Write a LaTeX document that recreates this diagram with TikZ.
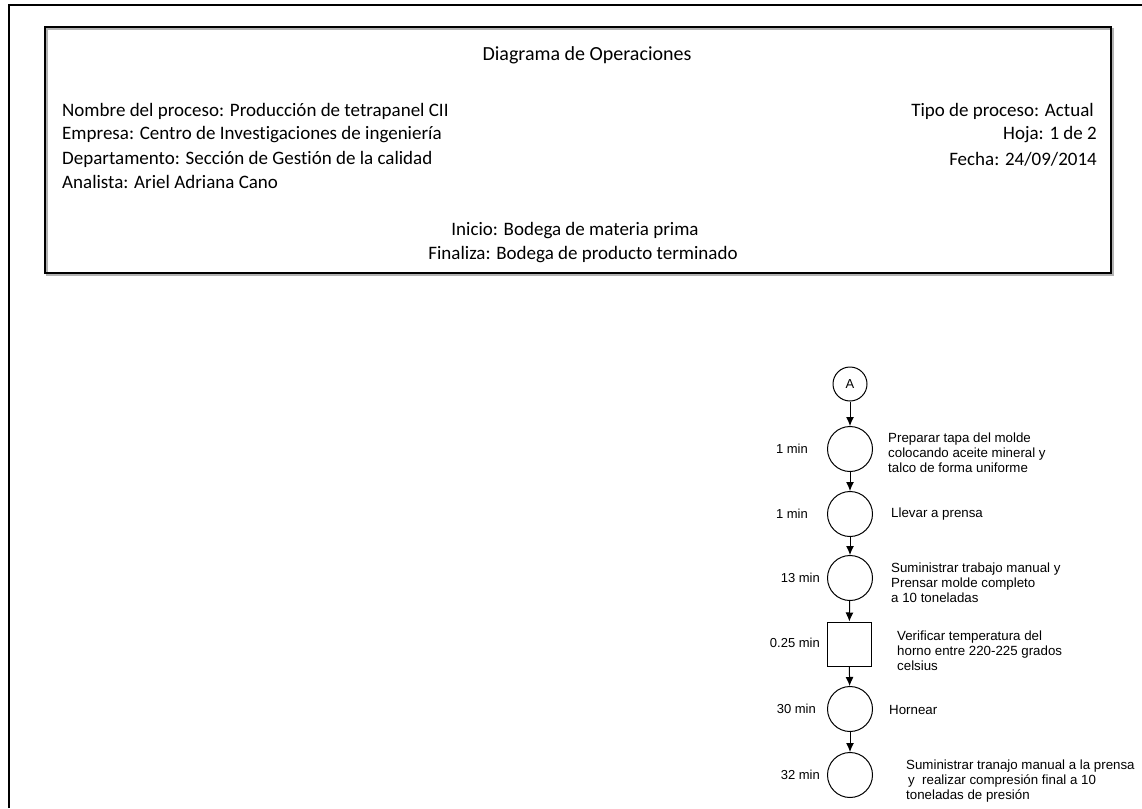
\documentclass[tikz,border=0pt]{standalone}
\usepackage{fontspec}
\setmainfont{Carlito}[Ligatures={NoCommon}]
\newfontfamily\arial{Liberation Sans}
\usepackage{tikz}
\usetikzlibrary{positioning,arrows.meta}

\begin{document}
\begin{tikzpicture}[x=1pt,y=-1pt,
	op/.style={draw,circle,line width=1pt,minimum size=45pt,inner sep=0pt},
	insp/.style={draw,rectangle,line width=1pt,minimum size=44pt,inner sep=0pt},
	conn/.style={-{Latex[length=9pt,width=8pt]},line width=1pt},
	tiempo/.style={anchor=east,font=\arial\fontsize{13}{15}\selectfont,inner sep=0pt},
	desc/.style={anchor=west,align=left,font=\arial\fontsize{13.3}{15}\selectfont,inner sep=0pt},
	hdr/.style={font=\fontsize{19}{22}\selectfont,inner sep=0pt}]
	\useasboundingbox (0,0) rectangle (1142,808);
	\fill[white] (0,0) rectangle (1142,808);
	\draw[line width=2pt] (9,808) -- (9,5) -- (1142,5);
	\draw[gray!60,line width=2pt] (47,29) rectangle (1113,275);
	\draw[line width=1.6pt] (45,27) rectangle (1111,273);
	\node[hdr,font=\fontsize{20}{22}\selectfont] (titulo) at (587,55) {Diagrama de Operaciones};
	\node[hdr,anchor=west] (nombre) at (62,111) {Nombre del proceso: Producción de tetrapanel CII};
	\node[hdr,anchor=west] (empresa) at (62,135) {Empresa: Centro de Investigaciones de ingeniería};
	\node[hdr,anchor=west] (depto) at (62,159) {Departamento: Sección de Gestión de la calidad};
	\node[hdr,anchor=west] (analista) at (62,182) {Analista: Ariel Adriana Cano};
	\node[hdr,anchor=east] (tipo) at (1094,111) {Tipo de proceso: Actual};
	\node[hdr,anchor=east] (hoja) at (1097,135) {Hoja: 1 de 2};
	\node[hdr,anchor=east] (fecha) at (1097,159) {Fecha: 24/09/2014};
	\node[hdr] (inicio) at (575,231) {Inicio: Bodega de materia prima};
	\node[hdr] (finaliza) at (583,255) {Finaliza: Bodega de producto terminado};

	\node[draw,circle,line width=1pt,minimum size=34pt,inner sep=0pt,font=\arial\fontsize{13}{15}\selectfont] (A) at (850,384) {A};
	\node[op] (o1) at (850,449) {};
	\node[op] (o2) at (850,514) {};
	\node[op] (o3) at (850,578) {};
	\node[insp] (i1) at (849,644) {};
	\node[op] (o4) at (850,709) {};
	\node[op] (o5) at (850,775) {};
	\draw[conn] (A) -- (o1);
	\draw[conn] (o1) -- (o2);
	\draw[conn] (o2) -- (o3);
	\draw[conn] (o3) -- (i1);
	\draw[conn] (i1) -- (o4);
	\draw[conn] (o4) -- (o5);

	\node[tiempo] (t1) at (808,449) {1 min};
	\node[tiempo] (t2) at (808,514) {1 min};
	\node[tiempo] (t3) at (820,578) {13 min};
	\node[tiempo] (t4) at (820,643) {0.25 min};
	\node[tiempo] (t5) at (816,709) {30 min};
	\node[tiempo] (t6) at (820,775) {32 min};

	\node[desc] (d1) at (888,453) {Preparar tapa del molde\\colocando aceite mineral y\\talco de forma uniforme};
	\node[desc] (d2) at (891,514) {Llevar a prensa};
	\node[desc] (d3) at (891,583) {Suministrar trabajo manual y\\Prensar molde completo\\a 10 toneladas};
	\node[desc] (d4) at (897,651) {Verificar temperatura del\\horno entre 220-225 grados\\celsius};
	\node[desc] (d5) at (889,710) {Hornear};
	\node[desc] (d6) at (906,781) {Suministrar tranajo manual a la prensa\\\hspace{2pt}y\ \ realizar compresión final a 10\\toneladas de presión};
\end{tikzpicture}
\end{document}
